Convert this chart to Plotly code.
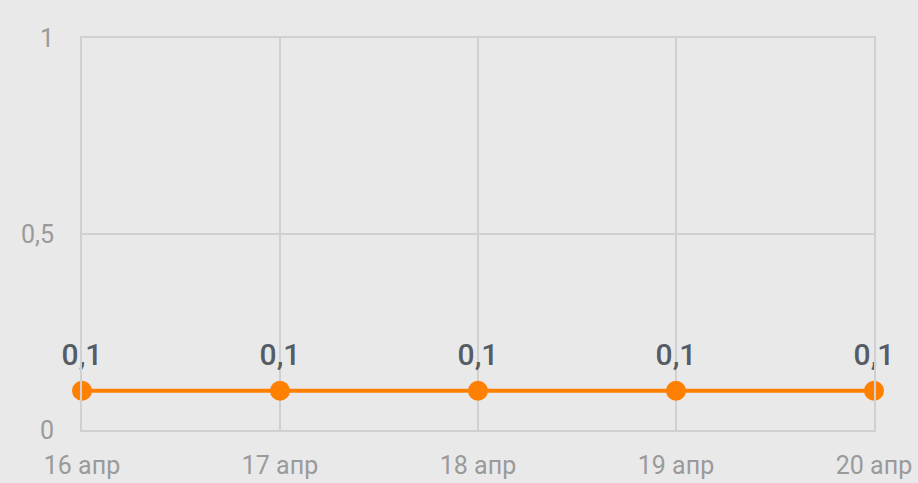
import plotly.graph_objects as go

categories = ["16 апр", "17 апр", "18 апр", "19 апр", "20 апр"]
values = [0.1, 0.1, 0.1, 0.1, 0.1]
y_tickvals = [0, 0.5, 1]
y_ticktext = ["0", "0,5", "1"]

labels = [f"{v:g}".replace(".", ",") for v in values]
xs = list(range(len(categories)))

fig = go.Figure()
fig.add_trace(go.Scatter(
    x=xs, y=values,
    mode="lines+markers",
    line=dict(color="#ff8000", width=4),
    marker=dict(color="#ff8000", size=20),
    cliponaxis=False, hoverinfo="skip",
))
# value labels (invisible larger markers give the label offset)
fig.add_trace(go.Scatter(
    x=xs, y=values,
    mode="markers+text",
    marker=dict(color="rgba(0,0,0,0)", size=28),
    text=labels, textposition="top center",
    textfont=dict(family="Roboto", size=30, color="#555c65", weight=500),
    cliponaxis=False, hoverinfo="skip",
))

axis_common = dict(
    showgrid=True, gridcolor="#d0d0d0", gridwidth=2,
    zeroline=False, showline=True, linecolor="#d0d0d0", linewidth=2, mirror=True,
    ticks="", automargin=False,
    tickfont=dict(family="Roboto", size=25, color="#9a9a9a"),
)

fig.update_layout(
    width=918, height=483,
    margin=dict(l=82, r=44, t=38, b=53, autoexpand=False),
    paper_bgcolor="#e9e9e9", plot_bgcolor="#e9e9e9",
    showlegend=False,
    separators=", ",
    font=dict(family="Roboto", color="#9a9a9a", size=25),
)
fig.update_xaxes(
    range=[0, len(categories) - 1],
    tickvals=xs, ticktext=categories,
    ticklabelstandoff=12, **axis_common,
)
fig.update_yaxes(
    range=[0, 1],
    tickvals=y_tickvals, ticktext=y_ticktext,
    ticklabelstandoff=21, **axis_common,
)

fig.write_html("out.html", config={"displayModeBar": False},
               post_script="document.body.style.margin='0';document.body.style.overflow='hidden';")
